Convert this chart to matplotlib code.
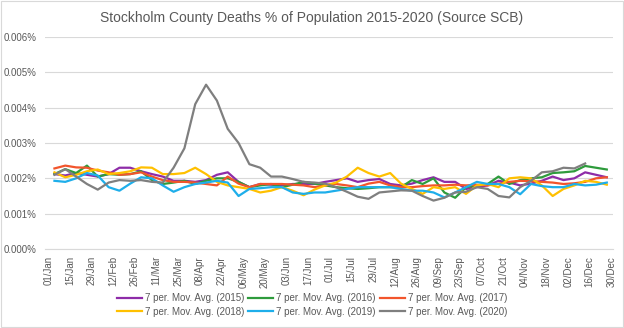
import matplotlib.pyplot as plt
from matplotlib.ticker import FuncFormatter
from matplotlib.patches import Rectangle
import numpy as np

# day of year (0 = 01/Jan) for each weekly reading of the 7 day moving average
days = list(range(4, 362, 7))

# values in units of 0.001 % of population
ma_2015 = [2.12, 2.08, 2.15, 2.10, 2.05, 2.12, 2.30, 2.30, 2.20, 2.12, 2.05, 1.93, 1.93,
           1.90, 1.95, 2.10, 2.17, 1.90, 1.75, 1.84, 1.82, 1.80, 1.84, 1.84, 1.84, 1.90,
           1.95, 2.00, 1.90, 1.95, 1.98, 1.84, 1.80, 1.85, 1.95, 2.03, 1.90, 1.90, 1.70,
           1.75, 1.80, 1.93, 1.88, 1.80, 1.85, 1.93, 2.05, 1.95, 2.00, 2.17, 2.10, 2.03]
ma_2016 = [2.12, 2.26, 2.15, 2.36, 2.05, 2.12, 2.10, 2.12, 2.20, 1.95, 1.84, 1.88, 1.93,
           1.84, 1.93, 2.00, 2.00, 1.90, 1.75, 1.80, 1.84, 1.75, 1.82, 1.90, 1.85, 1.80,
           1.75, 1.72, 1.70, 1.72, 1.75, 1.75, 1.75, 1.95, 1.84, 2.00, 1.60, 1.45, 1.75,
           1.80, 1.84, 2.05, 1.84, 1.95, 2.00, 2.03, 2.15, 2.17, 2.20, 2.35, 2.30, 2.25]
ma_2017 = [2.28, 2.36, 2.31, 2.30, 2.22, 2.17, 2.10, 2.12, 2.17, 2.05, 1.95, 1.90, 1.90,
           1.88, 1.84, 1.80, 2.05, 1.85, 1.75, 1.84, 1.84, 1.84, 1.82, 1.80, 1.75, 1.80,
           1.84, 1.80, 1.75, 1.85, 1.90, 1.80, 1.75, 1.75, 1.78, 1.80, 1.80, 1.82, 1.80,
           1.82, 1.80, 1.85, 1.90, 1.93, 1.92, 1.90, 1.88, 1.84, 1.86, 1.90, 2.00, 2.03]
ma_2018 = [2.17, 2.03, 2.10, 2.20, 2.25, 2.12, 2.15, 2.20, 2.31, 2.30, 2.12, 2.12, 2.15,
           2.30, 2.12, 1.90, 1.80, 1.75, 1.70, 1.60, 1.65, 1.75, 1.65, 1.52, 1.68, 1.80,
           1.88, 2.05, 2.30, 2.15, 2.05, 2.15, 1.85, 1.70, 1.56, 1.75, 1.70, 1.75, 1.56,
           1.80, 1.84, 1.75, 2.00, 2.03, 2.00, 1.80, 1.50, 1.70, 1.80, 1.93, 1.90, 1.82]
ma_2019 = [1.93, 1.90, 2.00, 2.15, 2.08, 1.75, 1.65, 1.85, 2.03, 2.00, 1.80, 1.62, 1.75,
           1.84, 1.88, 1.93, 1.88, 1.50, 1.70, 1.72, 1.75, 1.75, 1.60, 1.56, 1.60, 1.60,
           1.65, 1.70, 1.75, 1.75, 1.75, 1.75, 1.70, 1.65, 1.65, 1.60, 1.46, 1.60, 1.75,
           1.90, 1.84, 1.84, 1.75, 1.55, 1.84, 1.78, 1.75, 1.75, 1.84, 1.80, 1.82, 1.88]
ma_2020 = [2.10, 2.26, 2.05, 1.84, 1.68, 1.88, 1.95, 1.93, 1.95, 1.90, 1.88, 2.30, 2.85,
           4.10, 4.65, 4.20, 3.40, 3.00, 2.40, 2.30, 2.05, 2.05, 1.98, 1.90, 1.88, 1.85,
           1.75, 1.62, 1.48, 1.42, 1.60, 1.63, 1.66, 1.65, 1.50, 1.37, 1.45, 1.60, 1.62,
           1.75, 1.70, 1.50, 1.46, 1.75, 1.93, 2.17, 2.20, 2.30, 2.28, 2.42, None, None]

labels = ["7 per. Mov. Avg. (2015)", "7 per. Mov. Avg. (2016)", "7 per. Mov. Avg. (2017)",
          "7 per. Mov. Avg. (2018)", "7 per. Mov. Avg. (2019)", "7 per. Mov. Avg. (2020)"]
colors = ["#8E2CA8", "#2E9B3C", "#F2552C", "#FFC000", "#1EAEEA", "#7F7F7F"]

tick_days = list(range(0, 365, 14))
tick_labels = ["01/Jan", "15/Jan", "29/Jan", "12/Feb", "26/Feb", "11/Mar", "25/Mar",
               "08/Apr", "22/Apr", "06/May", "20/May", "03/Jun", "17/Jun", "01/Jul",
               "15/Jul", "29/Jul", "12/Aug", "26/Aug", "09/Sep", "23/Sep", "07/Oct",
               "21/Oct", "04/Nov", "18/Nov", "02/Dec", "16/Dec", "30/Dec"]

plt.rcParams['font.family'] = ['Liberation Sans', 'DejaVu Sans']
txt = "#595959"

fig = plt.figure(figsize=(6.24, 3.28), dpi=100)
ax = fig.add_axes([45 / 624, 1 - 249 / 328, 568 / 624, 212 / 328])

series = [ma_2015, ma_2016, ma_2017, ma_2018, ma_2019, ma_2020]
handles = []
for vals, lab, col in zip(series, labels, colors):
    y = np.array([np.nan if v is None else v for v in vals]) / 1000.0
    h, = ax.plot(days, y, color=col, lw=1.6, label=lab, solid_joinstyle='round')
    handles.append(h)

ax.set_xlim(-2.1, 365)
ax.set_ylim(0, 0.006)
ax.set_yticks(np.arange(0, 0.0061, 0.001))
ax.yaxis.set_major_formatter(FuncFormatter(lambda v, p: "%.3f%%" % v))
ax.set_xticks(tick_days)
ax.set_xticklabels(tick_labels, rotation=90)
ax.tick_params(length=0, colors=txt, labelsize=7)
ax.tick_params(axis='y', pad=6)
ax.tick_params(axis='x', pad=5)
ax.grid(axis='y', color="#D9D9D9", lw=0.8)
ax.set_axisbelow(True)
for s in ["top", "right", "left"]:
    ax.spines[s].set_visible(False)
ax.spines["bottom"].set_color("#D9D9D9")

fig.text(0.5, 1 - 18 / 328, "Stockholm County Deaths % of Population 2015-2020 (Source SCB)",
         ha="center", va="center", fontsize=10, color=txt)

# legend fills by column, so reorder to get rows 2015-2017 / 2018-2020
order = [0, 3, 1, 4, 2, 5]
leg = fig.legend([handles[i] for i in order], [labels[i] for i in order],
                 loc="center", bbox_to_anchor=(312 / 624, 1 - 305 / 328), ncol=3,
                 frameon=False, fontsize=7, handlelength=2.6, handletextpad=0.3,
                 columnspacing=0.4, labelspacing=0.35)
for t in leg.get_texts():
    t.set_color(txt)

fig.patches.append(Rectangle((0.002, 0.004), 0.996, 0.992, transform=fig.transFigure,
                             fill=False, edgecolor="#D9D9D9", lw=0.8))

fig.savefig("out.png", dpi=100)
